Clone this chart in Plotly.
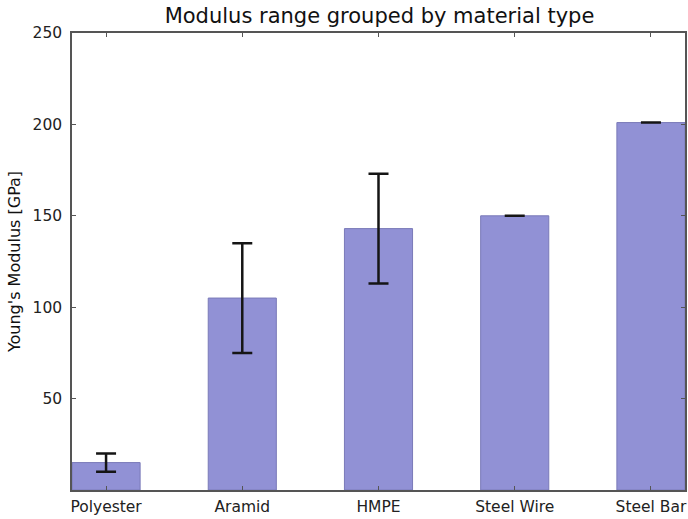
import plotly.graph_objects as go

# Young's modulus by material type, with the spread shown as error bars
materials = ["Polyester", "Aramid", "HMPE", "Steel Wire", "Steel Bar"]
modulus_gpa = [15, 105, 143, 150, 201]
modulus_spread = [5, 30, 30, 0, 0]
y_ticks = [50, 100, 150, 200, 250]

fig = go.Figure(
    go.Bar(
        x=materials,
        y=modulus_gpa,
        width=0.5,
        marker=dict(color="#9191d5", line=dict(color="#7a7ab8", width=1)),
        error_y=dict(
            type="data",
            array=modulus_spread,
            visible=True,
            color="#151515",
            thickness=2.5,
            width=10,
        ),
    )
)

axis_font = dict(family="DejaVu Sans", size=15.5, color="#222222")

fig.update_layout(
    width=688,
    height=519,
    margin=dict(l=72, r=1, t=33, b=29),
    paper_bgcolor="white",
    plot_bgcolor="white",
    showlegend=False,
    title=dict(
        text="Modulus range grouped by material type",
        x=(72 + 687) / 2 / 688,
        xanchor="center",
        y=1 - 16 / 519,
        yanchor="middle",
        font=dict(family="DejaVu Sans", size=21, color="#111111"),
    ),
    xaxis=dict(
        type="category",
        range=[-0.25, 4.25],
        showgrid=False,
        showline=True,
        linecolor="#555555",
        linewidth=1.5,
        mirror="ticks",
        ticks="inside",
        ticklen=4,
        tickcolor="#555555",
        tickfont=axis_font,
        ticklabelstandoff=2,
    ),
    yaxis=dict(
        range=[0, 250],
        tickvals=y_ticks,
        showgrid=False,
        zeroline=False,
        showline=True,
        linecolor="#555555",
        linewidth=1.5,
        mirror="ticks",
        ticks="inside",
        ticklen=4,
        tickcolor="#555555",
        tickfont=axis_font,
        ticklabelstandoff=5,
        title=dict(
            text="Young's Modulus [GPa]",
            font=dict(family="DejaVu Sans", size=16, color="#111111"),
            standoff=8,
        ),
    ),
)

fig.write_html("out.html")
